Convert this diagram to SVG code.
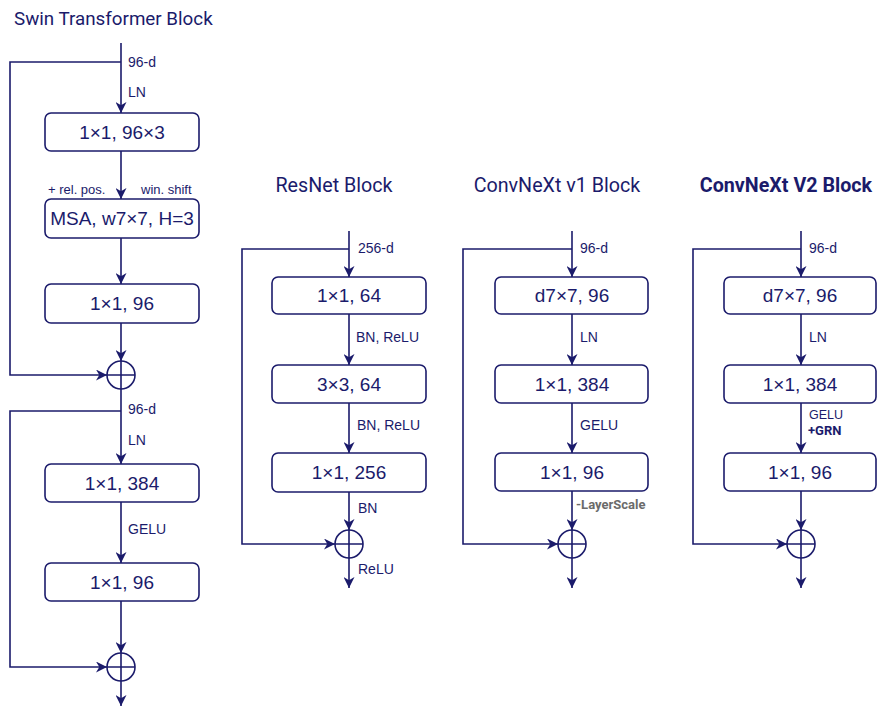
<svg xmlns="http://www.w3.org/2000/svg" width="877" height="706" viewBox="0 0 877 706">
<defs>
<marker id="arr" viewBox="0 0 10 10" refX="10" refY="5" markerWidth="11" markerHeight="11" markerUnits="userSpaceOnUse" orient="auto">
<path d="M0,0 L10,5 L0,10 L3,5 z" fill="#1b1b6b"/>
</marker>
<style>
.box{fill:#fff;stroke:#1b1b6b;stroke-width:1.6}
.bt{font-family:"Liberation Sans",Arial,sans-serif;font-size:19px;fill:#1b1b6b;text-anchor:middle}
.lb{font-family:"Liberation Sans",Arial,sans-serif;font-size:14px;fill:#1b1b6b}
.sm{font-family:"Liberation Sans",Arial,sans-serif;font-size:13px;fill:#1b1b6b}
.ti{font-family:Roboto,"Liberation Sans",sans-serif;font-size:19.7px;fill:#1b1b6b}
.ln{fill:none;stroke:#1b1b6b;stroke-width:1.6}
.ar{fill:none;stroke:#1b1b6b;stroke-width:1.6;marker-end:url(#arr)}
.ci{fill:#fff;stroke:#1b1b6b;stroke-width:1.6}
</style>
</defs>
<rect width="877" height="706" fill="#fff"/>

<g id="titles">
<text class="ti" x="14" y="25" style="font-size:18.8px">Swin Transformer Block</text>
<text class="ti" x="334" y="192" text-anchor="middle">ResNet Block</text>
<text class="ti" x="557" y="192" text-anchor="middle">ConvNeXt v1 Block</text>
<text class="ti" x="786" y="192" text-anchor="middle" font-weight="bold">ConvNeXt V2 Block</text>
</g>

<g id="connectors">
<!-- Swin -->
<line class="ar" x1="121" y1="43" x2="121" y2="113"/>
<path class="ar" d="M121,62 H10 V375 H107"/>
<line class="ar" x1="121" y1="151" x2="121" y2="199"/>
<line class="ar" x1="121" y1="238" x2="121" y2="284"/>
<line class="ar" x1="121" y1="323" x2="121" y2="361"/>
<line class="ar" x1="121" y1="389" x2="121" y2="464"/>
<path class="ar" d="M121,411 H10 V667 H107"/>
<line class="ar" x1="121" y1="502" x2="121" y2="563"/>
<line class="ar" x1="121" y1="601" x2="121" y2="653"/>
<line class="ar" x1="121" y1="681" x2="121" y2="706"/>
<!-- ResNet -->
<line class="ar" x1="349" y1="231" x2="349" y2="277"/>
<path class="ar" d="M349,249 H242 V544 H335"/>
<line class="ar" x1="349" y1="314" x2="349" y2="365"/>
<line class="ar" x1="349" y1="403" x2="349" y2="453"/>
<line class="ar" x1="349" y1="492" x2="349" y2="530"/>
<line class="ar" x1="349" y1="558" x2="349" y2="588"/>
<!-- ConvNeXt v1 -->
<line class="ar" x1="572" y1="231" x2="572" y2="277"/>
<path class="ar" d="M572,249 H463 V544 H558"/>
<line class="ar" x1="572" y1="314" x2="572" y2="365"/>
<line class="ar" x1="572" y1="403" x2="572" y2="453"/>
<line class="ar" x1="572" y1="491" x2="572" y2="530"/>
<line class="ar" x1="572" y1="558" x2="572" y2="588"/>
<!-- ConvNeXt V2 -->
<line class="ar" x1="801" y1="231" x2="801" y2="277"/>
<path class="ar" d="M801,249 H693 V544 H787"/>
<line class="ar" x1="801" y1="314" x2="801" y2="365"/>
<line class="ar" x1="801" y1="403" x2="801" y2="453"/>
<line class="ar" x1="801" y1="491" x2="801" y2="530"/>
<line class="ar" x1="801" y1="558" x2="801" y2="588"/>
</g>

<g id="labels">
<text class="lb" x="128" y="67">96-d</text>
<text class="lb" x="128" y="97">LN</text>
<text class="sm" x="48" y="194">+ rel. pos.</text>
<text class="sm" x="141" y="194">win. shift</text>
<text class="lb" x="128" y="414">96-d</text>
<text class="lb" x="128" y="445">LN</text>
<text class="lb" x="128" y="534">GELU</text>
<text class="lb" x="358" y="253">256-d</text>
<text class="lb" x="356" y="342">BN, ReLU</text>
<text class="lb" x="357" y="430">BN, ReLU</text>
<text class="lb" x="358" y="513">BN</text>
<text class="lb" x="358" y="574">ReLU</text>
<text class="lb" x="580" y="253">96-d</text>
<text class="lb" x="580" y="342">LN</text>
<text class="lb" x="580" y="430">GELU</text>
<text x="576" y="509" font-family="Roboto,'Liberation Sans',sans-serif" font-size="13" font-weight="bold" fill="#6b6b6b">-LayerScale</text>
<text class="lb" x="809" y="253">96-d</text>
<text class="lb" x="809" y="342">LN</text>
<text x="809" y="419" font-family="'Liberation Sans',Arial,sans-serif" font-size="12.5" fill="#1b1b6b">GELU</text>
<text x="808" y="435" font-family="Roboto,'Liberation Sans',sans-serif" font-size="13" font-weight="bold" fill="#1b1b6b">+GRN</text>
</g>

<g id="swin-qkv"><rect class="box" x="45" y="113" width="154" height="38" rx="6"/><text class="bt" x="122" y="139">1×1, 96×3</text></g>
<g id="swin-msa"><rect class="box" x="45" y="199" width="154" height="39" rx="6"/><text class="bt" x="122" y="225">MSA, w7×7, H=3</text></g>
<g id="swin-proj"><rect class="box" x="45" y="284" width="154" height="39" rx="6"/><text class="bt" x="122" y="310">1×1, 96</text></g>
<g id="swin-add1"><circle class="ci" cx="121" cy="375" r="14"/><path class="ln" d="M107,375 H135 M121,361 V389"/></g>
<g id="swin-fc1"><rect class="box" x="45" y="464" width="154" height="38" rx="6"/><text class="bt" x="122" y="490">1×1, 384</text></g>
<g id="swin-fc2"><rect class="box" x="45" y="563" width="154" height="38" rx="6"/><text class="bt" x="122" y="589">1×1, 96</text></g>
<g id="swin-add2"><circle class="ci" cx="121" cy="667" r="14"/><path class="ln" d="M107,667 H135 M121,653 V681"/></g>

<g id="res-c1"><rect class="box" x="272" y="277" width="154" height="37" rx="6"/><text class="bt" x="349" y="302">1×1, 64</text></g>
<g id="res-c2"><rect class="box" x="272" y="365" width="154" height="38" rx="6"/><text class="bt" x="349" y="391">3×3, 64</text></g>
<g id="res-c3"><rect class="box" x="272" y="453" width="154" height="39" rx="6"/><text class="bt" x="349" y="479">1×1, 256</text></g>
<g id="res-add"><circle class="ci" cx="349" cy="544" r="14"/><path class="ln" d="M335,544 H363 M349,530 V558"/></g>

<g id="v1-dw"><rect class="box" x="495" y="277" width="153" height="37" rx="6"/><text class="bt" x="572" y="302">d7×7, 96</text></g>
<g id="v1-fc1"><rect class="box" x="495" y="365" width="153" height="38" rx="6"/><text class="bt" x="572" y="391">1×1, 384</text></g>
<g id="v1-fc2"><rect class="box" x="495" y="453" width="153" height="38" rx="6"/><text class="bt" x="572" y="479">1×1, 96</text></g>
<g id="v1-add"><circle class="ci" cx="572" cy="544" r="14"/><path class="ln" d="M558,544 H586 M572,530 V558"/></g>

<g id="v2-dw"><rect class="box" x="724" y="277" width="152" height="37" rx="6"/><text class="bt" x="800" y="302">d7×7, 96</text></g>
<g id="v2-fc1"><rect class="box" x="724" y="365" width="152" height="38" rx="6"/><text class="bt" x="800" y="391">1×1, 384</text></g>
<g id="v2-fc2"><rect class="box" x="724" y="453" width="152" height="38" rx="6"/><text class="bt" x="800" y="479">1×1, 96</text></g>
<g id="v2-add"><circle class="ci" cx="801" cy="544" r="14"/><path class="ln" d="M787,544 H815 M801,530 V558"/></g>
</svg>
